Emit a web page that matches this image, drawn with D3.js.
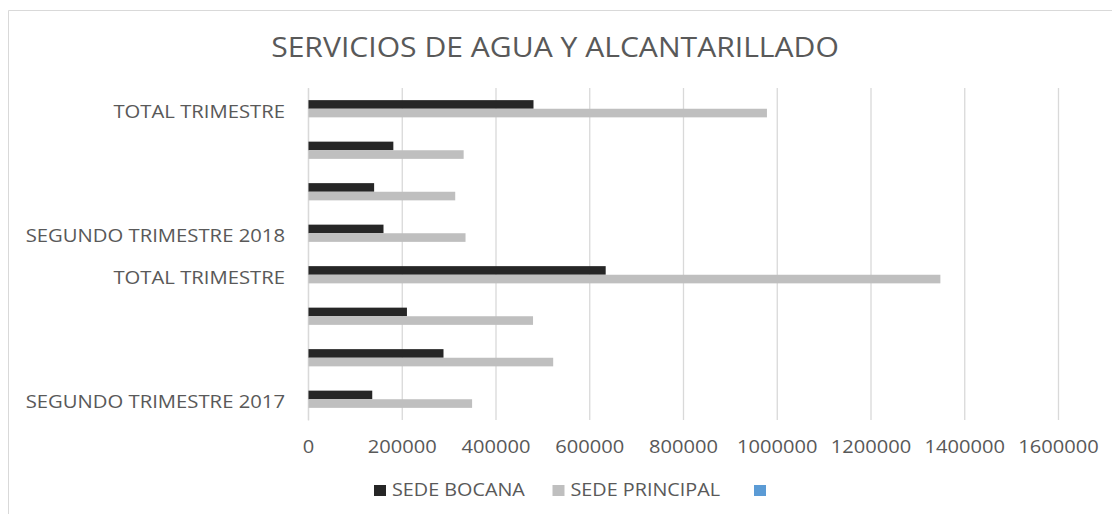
<!DOCTYPE html>
<html>
<head>
<meta charset="utf-8">
<script src="https://cdn.jsdelivr.net/npm/d3@7"></script>
<style>
  body { margin: 0; background: #fff; }
  svg text { font-family: "Open Sans", sans-serif; fill: #595959; }
</style>
</head>
<body>
<svg id="chart" width="1112" height="514"></svg>
<script>
// categories listed top to bottom as they appear
const categories = [
  "TOTAL TRIMESTRE",
  "",
  "",
  "SEGUNDO TRIMESTRE 2018",
  "TOTAL TRIMESTRE",
  "",
  "",
  "SEGUNDO TRIMESTRE 2017"
];
const sedeBocana = [480000, 181000, 140000, 160000, 634000, 210000, 288000, 136000];
const sedePrincipal = [978000, 331000, 313000, 335000, 1348000, 479000, 522000, 349000];
const seriesNames = ["SEDE BOCANA", "SEDE PRINCIPAL", ""];
const xTicks = [0, 200000, 400000, 600000, 800000, 1000000, 1200000, 1400000, 1600000];
const chartTitle = "SERVICIOS DE AGUA Y ALCANTARILLADO";

const colors = ["#262626", "#bfbfbf", "#5b9bd5"];
const grid = "#d9d9d9";

const svg = d3.select("#chart");
const plot = { left: 308, right: 1058, top: 88, bottom: 420 };

// stretch text horizontally a bit, the original font runs wider
function stretch(sel, k) {
  sel.each(function () {
    const w = this.getComputedTextLength();
    if (w > 0) {
      d3.select(this).attr("textLength", w * k).attr("lengthAdjust", "spacingAndGlyphs");
    }
  });
}

// outer chart border (only top and left are visible in frame)
svg.append("path")
  .attr("d", "M8.5,514 V10.5 H1112")
  .attr("fill", "none")
  .attr("stroke", grid);

const title = svg.append("text")
  .attr("x", 555)
  .attr("y", 56.5)
  .attr("text-anchor", "middle")
  .attr("font-size", 28)
  .text(chartTitle);
stretch(title, 1.075);

const data = categories.map((c, i) => ({
  i: i,
  label: c,
  values: [sedeBocana[i], sedePrincipal[i]]
}));

const xScale = d3.scaleLinear()
  .domain([0, 1600000])
  .range([plot.left, plot.right]);

const yScale = d3.scaleBand()
  .domain(data.map(d => d.i))
  .range([plot.top, plot.bottom])
  .paddingInner(0.585)
  .paddingOuter(0.2925);

const ySub = d3.scaleBand()
  .domain([0, 1])
  .range([0, yScale.bandwidth()]);

// gridlines + tick labels
const xAxisG = svg.append("g")
  .attr("transform", `translate(0, ${plot.bottom})`)
  .call(d3.axisBottom(xScale)
    .tickValues(xTicks)
    .tickFormat(d3.format("d"))
    .tickSize(-(plot.bottom - plot.top)));
xAxisG.select(".domain").remove();
xAxisG.selectAll(".tick line").attr("stroke", grid).attr("stroke-width", 1.3);
const xLabels = xAxisG.selectAll(".tick text")
  .attr("y", 32.7)
  .attr("dy", 0)
  .attr("font-size", 18.6)
  .attr("font-family", "Open Sans, sans-serif")
  .attr("fill", "#595959");
stretch(xLabels, 1.08);

// category axis
const yAxisG = svg.append("g")
  .attr("transform", `translate(${plot.left}, 0)`)
  .call(d3.axisLeft(yScale)
    .tickSize(0)
    .tickPadding(23)
    .tickFormat(i => categories[i]));
yAxisG.select(".domain").attr("stroke", grid).attr("stroke-width", 1.3);
const yLabels = yAxisG.selectAll(".tick text")
  .attr("dy", 0)
  .attr("y", 9)
  .attr("font-size", 18.6)
  .attr("font-family", "Open Sans, sans-serif")
  .attr("fill", "#595959");
stretch(yLabels, 1.09);

// bars
const groups = svg.append("g")
  .selectAll("g")
  .data(data)
  .enter()
  .append("g")
  .attr("transform", d => `translate(0, ${yScale(d.i)})`);

groups.selectAll("rect")
  .data(d => d.values.map((v, s) => ({ s: s, v: v })))
  .enter()
  .append("rect")
  .attr("x", xScale(0) + 0.5)
  .attr("y", d => ySub(d.s))
  .attr("width", d => xScale(d.v) - xScale(0))
  .attr("height", ySub.bandwidth())
  .attr("fill", d => colors[d.s]);

// legend
const legendX = [374, 552.5, 754];
const legend = svg.append("g")
  .selectAll("g")
  .data(seriesNames)
  .enter()
  .append("g")
  .attr("transform", (d, i) => `translate(${legendX[i]}, 485)`);

legend.append("rect")
  .attr("width", 12)
  .attr("height", 11)
  .attr("fill", (d, i) => colors[i]);

const legendText = legend.append("text")
  .attr("x", 18)
  .attr("y", 10.8)
  .attr("font-size", 17.5)
  .text(d => d);
stretch(legendText, 1.13);
</script>
</body>
</html>
